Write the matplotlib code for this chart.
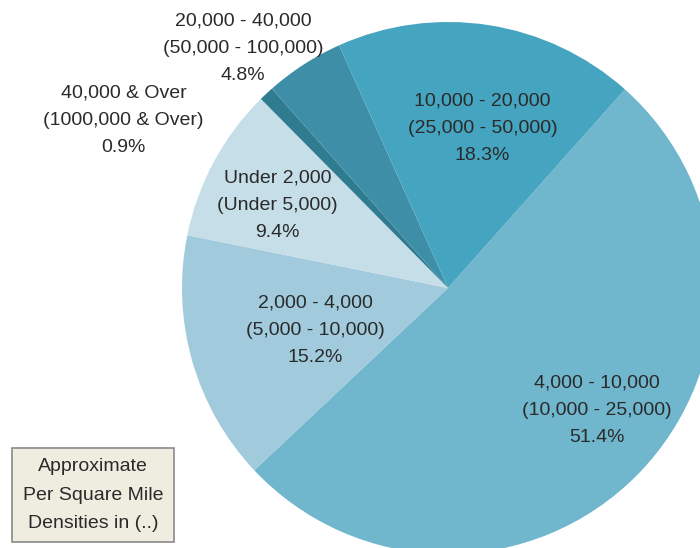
import matplotlib
matplotlib.use("Agg")
import matplotlib.pyplot as plt

plt.rcParams["font.family"] = ["Liberation Sans", "DejaVu Sans"]

# clockwise from the upper right
ranges = ["4,000 - 10,000", "2,000 - 4,000", "Under 2,000",
          "40,000 & Over", "20,000 - 40,000", "10,000 - 20,000"]
ranges_alt = ["(10,000 - 25,000)", "(5,000 - 10,000)", "(Under 5,000)",
              "(1000,000 & Over)", "(50,000 - 100,000)", "(25,000 - 50,000)"]
shares = [51.4, 15.2, 9.4, 0.9, 4.8, 18.3]
colors = ["#70b6cd", "#a1cbdc", "#c5dee7", "#2f7b8f", "#3e8ea8", "#45a4bf"]

# label anchor points in pie-radius units (centre at 0, 0)
label_pos = [(0.56, -0.46), (-0.50, -0.16), (-0.64, 0.31),
             (-1.22, 0.63), (-0.77, 0.90), (0.13, 0.60)]

W, H = 700, 548
cx, cy, r = 448, 288, 266

fig = plt.figure(figsize=(W / 100, H / 100), dpi=100)
ax = fig.add_axes([0, 0, 1, 1])
ax.pie(shares, colors=colors, startangle=48.3, counterclock=False,
       radius=1, wedgeprops=dict(linewidth=0))
ax.set_xlim(-cx / r, (W - cx) / r)
ax.set_ylim(-(H - cy) / r, cy / r)
ax.set_aspect("equal")
ax.axis("off")

for name, alt, s, (x, y) in zip(ranges, ranges_alt, shares, label_pos):
    ax.text(x, y, f"{name}\n{alt}\n{s}%", ha="center", va="center",
            fontsize=14, color="#2a2a2a", linespacing=1.78)

fig.text(93 / W, 1 - 495 / H, "Approximate\nPer Square Mile\nDensities in (..)",
         ha="center", va="center", fontsize=14, color="#2a2a2a",
         linespacing=1.85,
         bbox=dict(boxstyle="square,pad=0.55", facecolor="#efece0",
                   edgecolor="#8a8a8a", linewidth=1.2))

fig.savefig("out.png", dpi=100)
